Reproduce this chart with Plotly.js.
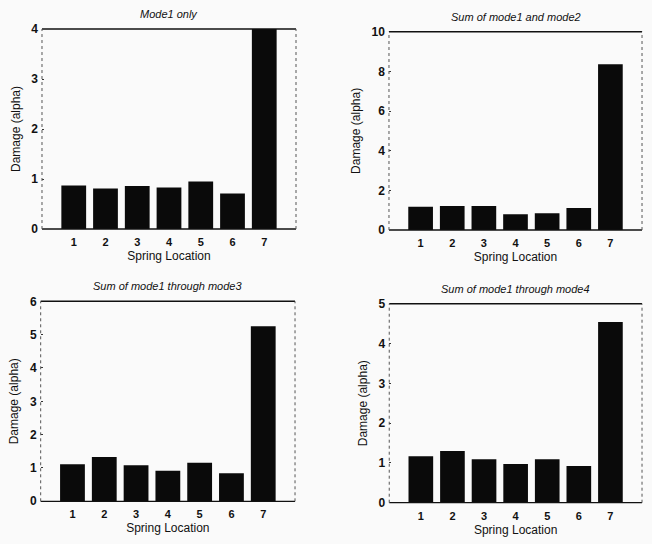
<!DOCTYPE html>
<html><head><meta charset="utf-8">
<script src="https://cdn.plot.ly/plotly-3.0.1.min.js"></script>
<style>html,body{margin:0;padding:0;background:#fafafa;}#c{width:652px;height:544px;}</style>
</head><body><div id="c"></div>
<script>
const locations = [1, 2, 3, 4, 5, 6, 7];
const tickLabels = ['1', '2', '3', '4', '5', '6', '7'];
const mode1 = [0.87, 0.81, 0.86, 0.83, 0.95, 0.71, 4.0];
const mode1to2 = [1.17, 1.21, 1.21, 0.79, 0.84, 1.11, 8.36];
const mode1to3 = [1.11, 1.33, 1.08, 0.92, 1.16, 0.84, 5.25];
const mode1to4 = [1.17, 1.30, 1.09, 0.97, 1.09, 0.92, 4.54];
const titles = ['Mode1 only', 'Sum of mode1 and mode2', 'Sum of mode1 through mode3', 'Sum of mode1 through mode4'];
const yMax = [4, 10, 6, 5];
const yDtick = [1, 2, 1, 1];
const series = [mode1, mode1to2, mode1to3, mode1to4];

const xDom = [[0.0644, 0.454], [0.5966, 0.9847], [0.0624, 0.4525], [0.597, 0.9847]];
const yDom = [[0.579, 0.9467], [0.5772, 0.9417], [0.0785, 0.4461], [0.0759, 0.4417]];

const font = {family: 'Liberation Sans, Arial, sans-serif', color: '#111'};
const traces = [];
const layout = {
  width: 652, height: 544,
  margin: {l: 0, r: 0, t: 0, b: 0},
  paper_bgcolor: '#fafafa', plot_bgcolor: '#fafafa',
  showlegend: false,
  font: font,
  annotations: [], shapes: []
};
for (let i = 0; i < 4; i++) {
  const s = i === 0 ? '' : String(i + 1);
  traces.push({type: 'bar', x: locations, y: series[i], xaxis: 'x' + s, yaxis: 'y' + s,
    marker: {color: '#0a0a0a', line: {width: 0}}, width: 0.78, hoverinfo: 'skip'});
  layout['xaxis' + s] = {domain: xDom[i], range: [0, 8], anchor: 'y' + s,
    tickmode: 'array', tickvals: locations, ticktext: tickLabels, ticks: '',
    ticklabelstandoff: 5,
    showgrid: false, zeroline: false, showline: false, fixedrange: true,
    tickfont: {size: 11, family: font.family, color: '#111', weight: 'bold'},
    title: {text: 'Spring Location', font: {size: 12, family: font.family, color: '#111'}, standoff: 4}};
  layout['yaxis' + s] = {domain: yDom[i], range: [0, yMax[i]], anchor: 'x' + s,
    dtick: yDtick[i], ticks: 'inside', ticklen: 2, tickcolor: '#333',
    ticklabelstandoff: 3,
    showgrid: false, zeroline: false, showline: false, fixedrange: true,
    tickfont: {size: 12, family: font.family, color: '#111', weight: 'bold'},
    title: {text: 'Damage (alpha)', font: {size: 12, family: font.family, color: '#111'}, standoff: 8}};
  const xr = 'x' + s + ' domain', yr = 'y' + s + ' domain';
  layout.shapes.push(
    {type: 'line', xref: xr, yref: yr, x0: 0, x1: 1, y0: 1, y1: 1, line: {color: '#111', width: 1.6}},
    {type: 'line', xref: xr, yref: yr, x0: 0, x1: 1, y0: 0, y1: 0, line: {color: '#111', width: 1.3}},
    {type: 'line', xref: xr, yref: yr, x0: 0, x1: 0, y0: 0, y1: 1, line: {color: '#555', width: 1, dash: 'dot'}},
    {type: 'line', xref: xr, yref: yr, x0: 1, x1: 1, y0: 0, y1: 1, line: {color: '#555', width: 1, dash: 'dot'}}
  );
  layout.annotations.push({xref: 'paper', yref: 'paper',
    x: (xDom[i][0] + xDom[i][1]) / 2, y: yDom[i][1] + 0.013, yanchor: 'bottom', xanchor: 'center',
    showarrow: false, text: '<i>' + titles[i] + '</i>', font: {size: 11, family: font.family, color: '#111'}});
}
Plotly.newPlot('c', traces, layout, {staticPlot: true});
</script></body></html>
